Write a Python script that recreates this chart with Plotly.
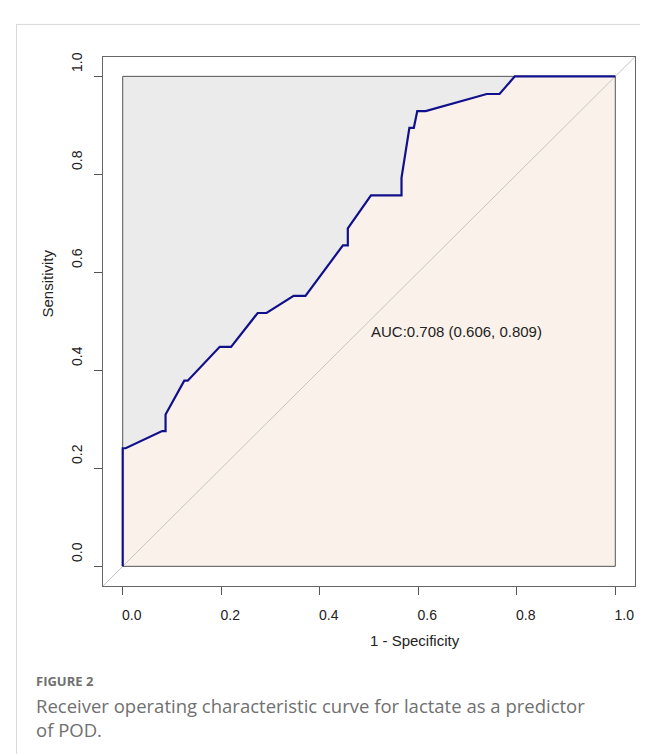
import plotly.graph_objects as go

# ---- data ----
fpr = [0.0, 0.0, 0.006, 0.080, 0.087, 0.087, 0.125, 0.132, 0.197, 0.220, 0.274, 0.292,
       0.347, 0.371, 0.447, 0.457, 0.457, 0.504, 0.566, 0.566, 0.582, 0.591, 0.598,
       0.615, 0.739, 0.765, 0.796, 1.0]
tpr = [0.0, 0.241, 0.241, 0.276, 0.276, 0.310, 0.379, 0.379, 0.448, 0.448, 0.517, 0.517,
       0.552, 0.552, 0.655, 0.655, 0.690, 0.757, 0.757, 0.793, 0.895, 0.895, 0.929,
       0.929, 0.964, 0.964, 1.0, 1.0]
tick_vals = [0.0, 0.2, 0.4, 0.6, 0.8, 1.0]
tick_text = ["0.0", "0.2", "0.4", "0.6", "0.8", "1.0"]
unit = [0.0, 1.0]
axis_range = [-0.04, 1.04]
auc_text = "AUC:0.708 (0.606, 0.809)"
auc_pos = [0.5, 0.5]
x_title = "1 - Specificity"
y_title = "Sensitivity"
fig_label = "FIGURE 2"
caption = "Receiver operating characteristic curve for lactate as a predictor<br>of POD."

W, H = 648, 754
FONT = "Liberation Sans, Arial, sans-serif"

fig = go.Figure()

# area under the curve (beige)
fig.add_trace(go.Scatter(
    x=fpr + [unit[1], unit[0]], y=tpr + [unit[0], unit[0]],
    fill="toself", fillcolor="#FAF2EA", line=dict(width=0),
    mode="lines", hoverinfo="skip", showlegend=False))
# chance diagonal
fig.add_trace(go.Scatter(
    x=axis_range, y=axis_range, mode="lines",
    line=dict(color="#C4C4C4", width=1), hoverinfo="skip", showlegend=False))
# unit square outline
fig.add_trace(go.Scatter(
    x=[unit[0], unit[1], unit[1], unit[0], unit[0]],
    y=[unit[0], unit[0], unit[1], unit[1], unit[0]],
    mode="lines", line=dict(color="#555555", width=1),
    hoverinfo="skip", showlegend=False))
# ROC curve
fig.add_trace(go.Scatter(
    x=fpr, y=tpr, mode="lines",
    line=dict(color="#10108C", width=2.2), showlegend=False))

# grey max-AUC square
fig.add_shape(type="rect", xref="x", yref="y",
              x0=unit[0], y0=unit[0], x1=unit[1], y1=unit[1],
              fillcolor="#EBEBEB", line=dict(width=0), layer="below")

# card border (left + top)
fig.add_shape(type="line", xref="paper", yref="paper",
              x0=8.5 / W, x1=8.5 / W, y0=0, y1=1 - 12 / H,
              line=dict(color="#D9D9D9", width=1))
fig.add_shape(type="line", xref="paper", yref="paper",
              x0=8.5 / W, x1=1, y0=1 - 12.5 / H, y1=1 - 12.5 / H,
              line=dict(color="#D9D9D9", width=1))

axis_common = dict(
    range=axis_range, tickvals=tick_vals, ticktext=tick_text,
    ticks="outside", ticklen=8, tickcolor="#555555", tickwidth=1,
    showline=True, mirror=True, linecolor="#666666", linewidth=1,
    showgrid=False, zeroline=False,
    tickfont=dict(family=FONT, size=14, color="#222222"),
)

fig.update_layout(
    width=W, height=H,
    margin=dict(l=0, r=0, t=0, b=0),
    paper_bgcolor="white", plot_bgcolor="white",
    xaxis=dict(domain=[95 / W, 627 / W], ticklabelshift=9,
               ticklabelstandoff=8, **axis_common),
    yaxis=dict(domain=[(H - 577) / H, (H - 45) / H], tickangle=-90,
               ticklabelshift=-12, ticklabelstandoff=6, **axis_common),
    showlegend=False,
)

fig.add_annotation(x=auc_pos[0], y=auc_pos[1], xref="x", yref="y",
                   text=auc_text, showarrow=False, xanchor="left", yanchor="top",
                   font=dict(family=FONT, size=15, color="#222222"))
fig.add_annotation(x=407 / W, y=1 - 632 / H, xref="paper", yref="paper",
                   text=x_title, showarrow=False, xanchor="center", yanchor="middle",
                   font=dict(family=FONT, size=15, color="#222222"))
fig.add_annotation(x=40 / W, y=1 - 273 / H, xref="paper", yref="paper",
                   text=y_title, showarrow=False, textangle=-90,
                   xanchor="center", yanchor="middle",
                   font=dict(family=FONT, size=15, color="#222222"))
fig.add_annotation(x=26 / W, y=1 - 673 / H, xref="paper", yref="paper",
                   text="<b>" + fig_label + "</b>", showarrow=False,
                   xanchor="left", yanchor="middle",
                   font=dict(family="Open Sans, sans-serif", size=13, color="#707070"))
fig.add_annotation(x=26 / W, y=1 - 709 / H, xref="paper", yref="paper",
                   text=caption, showarrow=False, align="left",
                   xanchor="left", yanchor="middle",
                   font=dict(family="Open Sans, sans-serif", size=18.5, color="#707070"))

fig.write_html("out.html")
